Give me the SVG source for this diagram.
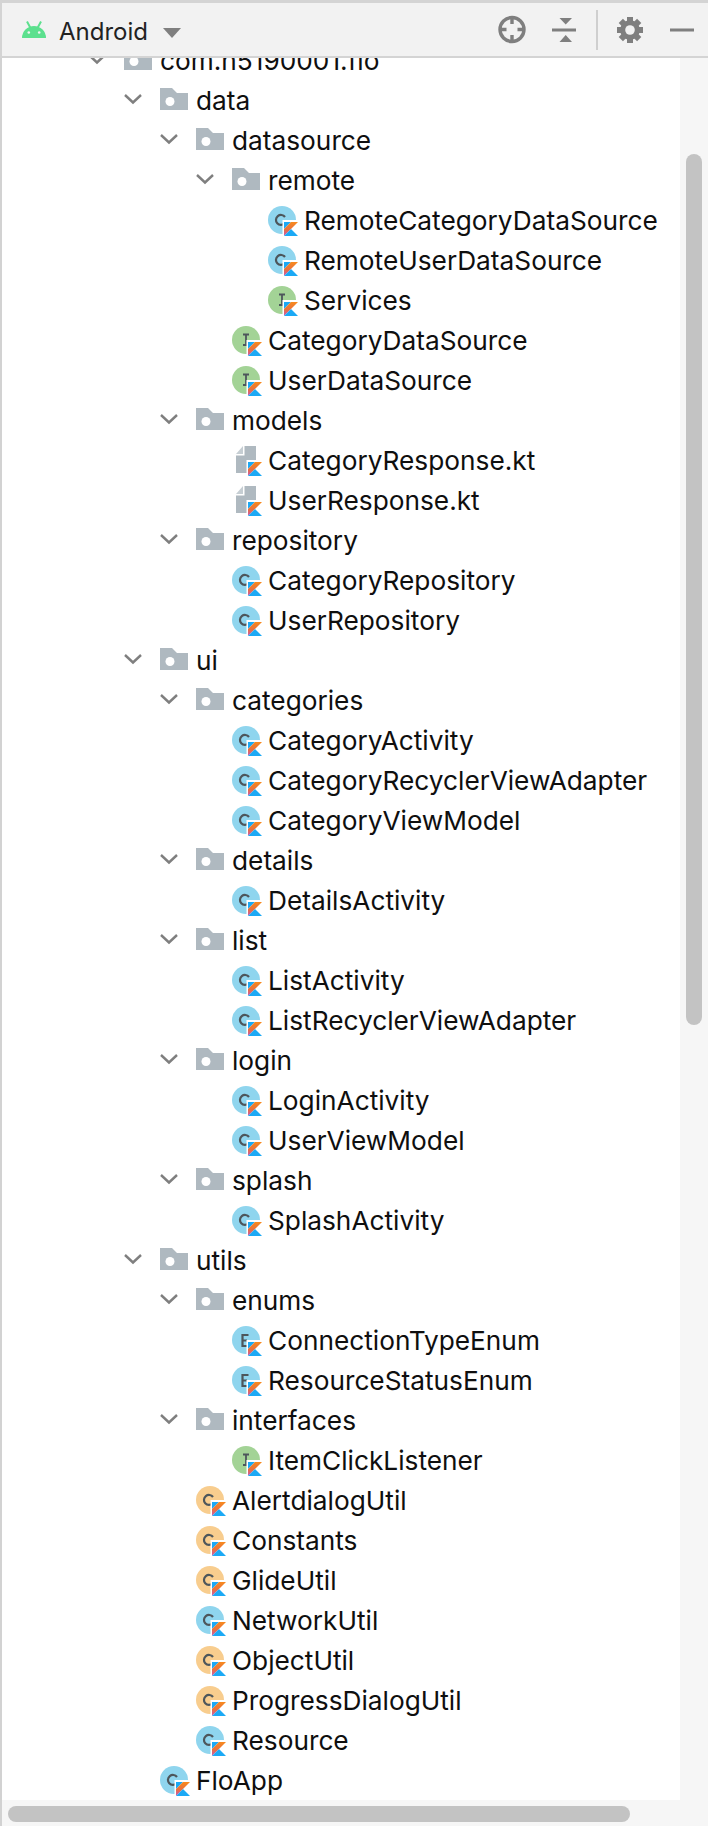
<svg xmlns="http://www.w3.org/2000/svg" xmlns:xlink="http://www.w3.org/1999/xlink" width="708" height="1826" viewBox="0 0 708 1826">
<style>
text{font-family:Inter,"Liberation Sans",sans-serif;font-size:26.25px;fill:#0f0f0f}
.folder{fill:#afb9c0}
.chev{fill:none;stroke:#7f7f7f;stroke-width:2.4}
.tb{fill:#7f7f7f}
.tbs{fill:none;stroke:#7f7f7f;stroke-width:3.4}
.ltr{fill:none;stroke:#4d565b;stroke-width:2.2}
.lti{fill:none;stroke:#4d565b;stroke-width:1.8}
</style>
<defs>
<linearGradient id="kg" x1="0" y1="0" x2="0" y2="1"><stop offset="0" stop-color="#f88a1c"/><stop offset="0.55" stop-color="#e8703f"/><stop offset="1" stop-color="#c757bc"/></linearGradient>
<g id="k">
<path d="M14.5,17.5V0.5H31.5V17.5Z" fill="#fff" transform="translate(0,-0.5)"/>
<path d="M16,2H23L16,9Z" fill="#1ba9f5"/>
<path d="M23,2H30L16,16V9Z" fill="url(#kg)"/>
<path d="M23,9L30,16H16Z" fill="#1ba9f5"/>
</g>
<g id="fo"><path class="folder" d="M0,-12H12L17,-7H28V10H0Z"/><circle cx="10" cy="1.5" r="4.5" fill="#fff"/><path class="chev" d="M-35,-5L-27,2.5L-19,-5"/></g>
<g id="fc"><circle cx="14" cy="0" r="14" fill="#8fd5ee"/><path class="ltr" d="M17,-3A5,5 0 1 0 16.500,3.500"/><use xlink:href="#k"/></g>
<g id="oc"><circle cx="14" cy="0" r="14" fill="#f8cd8e"/><path class="ltr" d="M17,-3A5,5 0 1 0 16.500,3.500"/><use xlink:href="#k"/></g>
<g id="fi"><circle cx="14" cy="0" r="14" fill="#a3d396"/><path class="lti" d="M11,-5.500H17M14,-5.500V5M11,5H17"/><use xlink:href="#k"/></g>
<g id="fe"><circle cx="14" cy="0" r="14" fill="#8fd5ee"/><path class="ltr" d="M16.500,-5H10.500V6H16.500M10.500,0.500H15"/><use xlink:href="#k"/></g>
<g id="ff"><path d="M4,-6L11,-14V-6Z" fill="#c6ced3"/><path class="folder" d="M12.500,-14H24V13H4V-4.500H12.500Z"/><use xlink:href="#k"/></g>
</defs>
<rect width="708" height="1826" fill="#fff"/>
<g id="tree">
<g id="n-com" transform="translate(124,60)"><use xlink:href="#fo"/><text x="36" y="10">com.n5190001.flo</text></g>
<g id="n-data" transform="translate(160,100)"><use xlink:href="#fo"/><text x="36" y="10">data</text></g>
<g id="n-datasource" transform="translate(196,140)"><use xlink:href="#fo"/><text x="36" y="10">datasource</text></g>
<g id="n-remote" transform="translate(232,180)"><use xlink:href="#fo"/><text x="36" y="10">remote</text></g>
<g id="n-RemoteCategoryDataSource" transform="translate(268,220)"><use xlink:href="#fc"/><text x="36" y="10">RemoteCategoryDataSource</text></g>
<g id="n-RemoteUserDataSource" transform="translate(268,260)"><use xlink:href="#fc"/><text x="36" y="10">RemoteUserDataSource</text></g>
<g id="n-Services" transform="translate(268,300)"><use xlink:href="#fi"/><text x="36" y="10">Services</text></g>
<g id="n-CategoryDataSource" transform="translate(232,340)"><use xlink:href="#fi"/><text x="36" y="10">CategoryDataSource</text></g>
<g id="n-UserDataSource" transform="translate(232,380)"><use xlink:href="#fi"/><text x="36" y="10">UserDataSource</text></g>
<g id="n-models" transform="translate(196,420)"><use xlink:href="#fo"/><text x="36" y="10">models</text></g>
<g id="n-CategoryResponse" transform="translate(232,460)"><use xlink:href="#ff"/><text x="36" y="10">CategoryResponse.kt</text></g>
<g id="n-UserResponse" transform="translate(232,500)"><use xlink:href="#ff"/><text x="36" y="10">UserResponse.kt</text></g>
<g id="n-repository" transform="translate(196,540)"><use xlink:href="#fo"/><text x="36" y="10">repository</text></g>
<g id="n-CategoryRepository" transform="translate(232,580)"><use xlink:href="#fc"/><text x="36" y="10">CategoryRepository</text></g>
<g id="n-UserRepository" transform="translate(232,620)"><use xlink:href="#fc"/><text x="36" y="10">UserRepository</text></g>
<g id="n-ui" transform="translate(160,660)"><use xlink:href="#fo"/><text x="36" y="10">ui</text></g>
<g id="n-categories" transform="translate(196,700)"><use xlink:href="#fo"/><text x="36" y="10">categories</text></g>
<g id="n-CategoryActivity" transform="translate(232,740)"><use xlink:href="#fc"/><text x="36" y="10">CategoryActivity</text></g>
<g id="n-CategoryRecyclerViewAdapter" transform="translate(232,780)"><use xlink:href="#fc"/><text x="36" y="10">CategoryRecyclerViewAdapter</text></g>
<g id="n-CategoryViewModel" transform="translate(232,820)"><use xlink:href="#fc"/><text x="36" y="10">CategoryViewModel</text></g>
<g id="n-details" transform="translate(196,860)"><use xlink:href="#fo"/><text x="36" y="10">details</text></g>
<g id="n-DetailsActivity" transform="translate(232,900)"><use xlink:href="#fc"/><text x="36" y="10">DetailsActivity</text></g>
<g id="n-list" transform="translate(196,940)"><use xlink:href="#fo"/><text x="36" y="10">list</text></g>
<g id="n-ListActivity" transform="translate(232,980)"><use xlink:href="#fc"/><text x="36" y="10">ListActivity</text></g>
<g id="n-ListRecyclerViewAdapter" transform="translate(232,1020)"><use xlink:href="#fc"/><text x="36" y="10">ListRecyclerViewAdapter</text></g>
<g id="n-login" transform="translate(196,1060)"><use xlink:href="#fo"/><text x="36" y="10">login</text></g>
<g id="n-LoginActivity" transform="translate(232,1100)"><use xlink:href="#fc"/><text x="36" y="10">LoginActivity</text></g>
<g id="n-UserViewModel" transform="translate(232,1140)"><use xlink:href="#fc"/><text x="36" y="10">UserViewModel</text></g>
<g id="n-splash" transform="translate(196,1180)"><use xlink:href="#fo"/><text x="36" y="10">splash</text></g>
<g id="n-SplashActivity" transform="translate(232,1220)"><use xlink:href="#fc"/><text x="36" y="10">SplashActivity</text></g>
<g id="n-utils" transform="translate(160,1260)"><use xlink:href="#fo"/><text x="36" y="10">utils</text></g>
<g id="n-enums" transform="translate(196,1300)"><use xlink:href="#fo"/><text x="36" y="10">enums</text></g>
<g id="n-ConnectionTypeEnum" transform="translate(232,1340)"><use xlink:href="#fe"/><text x="36" y="10">ConnectionTypeEnum</text></g>
<g id="n-ResourceStatusEnum" transform="translate(232,1380)"><use xlink:href="#fe"/><text x="36" y="10">ResourceStatusEnum</text></g>
<g id="n-interfaces" transform="translate(196,1420)"><use xlink:href="#fo"/><text x="36" y="10">interfaces</text></g>
<g id="n-ItemClickListener" transform="translate(232,1460)"><use xlink:href="#fi"/><text x="36" y="10">ItemClickListener</text></g>
<g id="n-AlertdialogUtil" transform="translate(196,1500)"><use xlink:href="#oc"/><text x="36" y="10">AlertdialogUtil</text></g>
<g id="n-Constants" transform="translate(196,1540)"><use xlink:href="#oc"/><text x="36" y="10">Constants</text></g>
<g id="n-GlideUtil" transform="translate(196,1580)"><use xlink:href="#oc"/><text x="36" y="10">GlideUtil</text></g>
<g id="n-NetworkUtil" transform="translate(196,1620)"><use xlink:href="#fc"/><text x="36" y="10">NetworkUtil</text></g>
<g id="n-ObjectUtil" transform="translate(196,1660)"><use xlink:href="#oc"/><text x="36" y="10">ObjectUtil</text></g>
<g id="n-ProgressDialogUtil" transform="translate(196,1700)"><use xlink:href="#oc"/><text x="36" y="10">ProgressDialogUtil</text></g>
<g id="n-Resource" transform="translate(196,1740)"><use xlink:href="#fc"/><text x="36" y="10">Resource</text></g>
<g id="n-FloApp" transform="translate(160,1780)"><use xlink:href="#fc"/><text x="36" y="10">FloApp</text></g>
</g>
<g id="scrollbars">
<rect x="680" y="58" width="28" height="1768" fill="#f6f6f6"/>
<rect x="0" y="1800" width="708" height="26" fill="#f6f6f6"/>
<rect x="0" y="58" width="2" height="1768" fill="#d2d2d2"/>
<rect x="686" y="154" width="16" height="871" rx="8" fill="#c3c3c3"/>
<rect x="8" y="1806" width="622" height="16" rx="8" fill="#c3c3c3"/>
</g>
<g id="toolbar">
<rect x="0" y="0" width="708" height="58" fill="#d4d4d4"/>
<rect x="2" y="3" width="706" height="53" fill="#f2f2f2"/>
<g id="android-icon" fill="#5ce08e">
<path d="M22,38A12,12 0 0 1 46,38Z"/>
<path d="M27,21.500L30.500,28M41,21.500L37.500,28" stroke="#5ce08e" stroke-width="2" fill="none"/>
<circle cx="28.800" cy="32.500" r="1.300" fill="#f2f2f2"/><circle cx="39.200" cy="32.500" r="1.300" fill="#f2f2f2"/>
</g>
<text id="t-android" x="59" y="40" style="fill:#222;font-size:24px">Android</text>
<path class="tb" d="M163,28H181L172,38Z"/>
<g id="locate"><circle class="tbs" cx="512" cy="29.500" r="12"/><path class="tbs" d="M512,17V24M512,35V42M499.500,29.500H506.500M517.500,29.500H524.500"/></g>
<g id="collapse"><rect class="tb" x="552" y="28.500" width="24" height="3"/><path class="tb" d="M559.500,18H572L565.700,24.500ZM565.700,35L572,42H559.500Z"/></g>
<rect x="596" y="10" width="2" height="40" fill="#cfcfcf"/>
<g id="gear" class="tb"><circle cx="630" cy="30" r="9.800"/><g id="teeth"><rect x="627" y="17" width="6" height="26"/><rect x="627" y="17" width="6" height="26" transform="rotate(45 630 30)"/><rect x="627" y="17" width="6" height="26" transform="rotate(90 630 30)"/><rect x="627" y="17" width="6" height="26" transform="rotate(135 630 30)"/></g><circle cx="630" cy="30" r="4.800" fill="#f2f2f2"/></g>
<rect class="tb" x="670" y="28.500" width="24" height="3"/>
</g>
</svg>
